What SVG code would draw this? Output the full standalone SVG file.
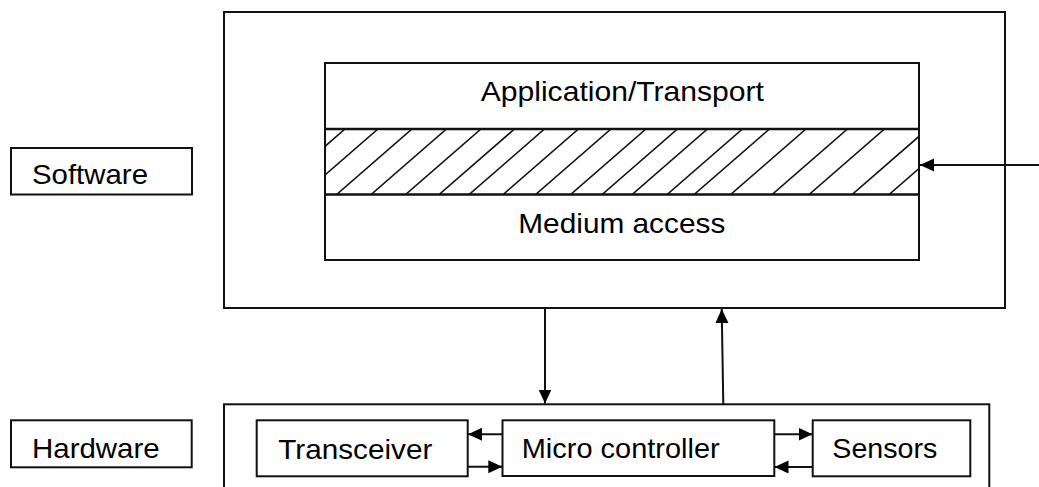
<svg xmlns="http://www.w3.org/2000/svg" width="1039" height="487" viewBox="0 0 1039 487">
  <style>
    .box { fill: #fff; stroke: #111; stroke-width: 2; }
    .frame { fill: none; stroke: #111; stroke-width: 2; }
    .hatch { stroke: #111; stroke-width: 1.6; }
    .divider { stroke: #111; stroke-width: 2.5; }
    .label { font-family: "Liberation Sans", Arial, sans-serif; font-size: 28px; fill: #000; }
    .conn { fill: none; stroke: #111; stroke-width: 2; }
  </style>
  <defs>
    <marker id="arrow" markerUnits="userSpaceOnUse" markerWidth="15" markerHeight="14" refX="14" refY="6.5" orient="auto">
      <path d="M0,0 L14,6.5 L0,13 Z" fill="#000"/>
    </marker>
    <clipPath id="bandClip">
      <rect x="325" y="129" width="594" height="66"/>
    </clipPath>
  </defs>

  <rect width="1039" height="487" fill="#fff"/>

  <!-- side labels -->
  <g id="software-label">
    <rect class="box" x="11" y="148" width="181" height="46.5"/>
    <text class="label" x="32" y="184" textLength="116" lengthAdjust="spacingAndGlyphs">Software</text>
  </g>
  <g id="hardware-label">
    <rect class="box" x="11" y="420.3" width="180.7" height="47"/>
    <text class="label" x="32" y="457.7" textLength="127.7" lengthAdjust="spacingAndGlyphs">Hardware</text>
  </g>

  <!-- software container with protocol stack -->
  <g id="software">
    <rect class="frame" x="224" y="12" width="781" height="296"/>
  </g>
  <g id="protocol-stack">
    <rect class="box" x="325" y="63" width="594" height="197"/>
    <g clip-path="url(#bandClip)">
      <path class="hatch" d="M269,195 L345,129 M302,195 L378,129 M336,195 L412,129 M370.5,195 L446.5,129 M405,195 L481,129 M438.5,195 L514.5,129 M468.5,195 L544.5,129 M502.5,195 L578.5,129 M535,195 L611,129 M570,195 L646,129 M601.5,195 L677.5,129 M631.5,195 L707.5,129 M666.5,195 L742.5,129 M693.5,195 L769.5,129 M730,195 L806,129 M771.5,195 L847.5,129 M808.5,195 L884.5,129 M851.5,195 L927.5,129 M888.5,195 L964.5,129"/>
    </g>
    <line class="divider" x1="325" y1="129" x2="919" y2="129"/>
    <line class="divider" x1="325" y1="194.5" x2="919" y2="194.5"/>
    <rect class="frame" x="325" y="63" width="594" height="197"/>
    <text class="label" x="480.7" y="101" textLength="283.3" lengthAdjust="spacingAndGlyphs">Application/Transport</text>
    <text class="label" x="518.3" y="232.5" textLength="207" lengthAdjust="spacingAndGlyphs">Medium access</text>
  </g>

  <!-- hardware container -->
  <g id="hardware">
    <rect class="frame" x="224" y="404.3" width="765.3" height="120"/>
  </g>
  <g id="transceiver">
    <rect class="box" x="256.7" y="420.3" width="211" height="56"/>
    <text class="label" x="278.3" y="459" textLength="154" lengthAdjust="spacingAndGlyphs">Transceiver</text>
  </g>
  <g id="micro-controller">
    <rect class="box" x="502.5" y="420.3" width="271.8" height="55.7"/>
    <text class="label" x="521.7" y="457.7" textLength="198" lengthAdjust="spacingAndGlyphs">Micro controller</text>
  </g>
  <g id="sensors">
    <rect class="box" x="812.7" y="420.3" width="157.6" height="56"/>
    <text class="label" x="832.3" y="458.3" textLength="105" lengthAdjust="spacingAndGlyphs">Sensors</text>
  </g>

  <!-- connectors -->
  <g id="connectors">
    <line class="conn" x1="1039" y1="165" x2="920" y2="165" marker-end="url(#arrow)"/>
    <line class="conn" x1="545" y1="308" x2="545" y2="403.5" marker-end="url(#arrow)"/>
    <line class="conn" x1="723.3" y1="404.3" x2="721.7" y2="309" marker-end="url(#arrow)"/>
    <line class="conn" x1="502.5" y1="434.3" x2="468" y2="434.3" marker-end="url(#arrow)"/>
    <line class="conn" x1="467.7" y1="466.7" x2="502.3" y2="466.7" marker-end="url(#arrow)"/>
    <line class="conn" x1="774.3" y1="434.3" x2="812.5" y2="434.3" marker-end="url(#arrow)"/>
    <line class="conn" x1="812.7" y1="467" x2="774.5" y2="467" marker-end="url(#arrow)"/>
  </g>
</svg>
